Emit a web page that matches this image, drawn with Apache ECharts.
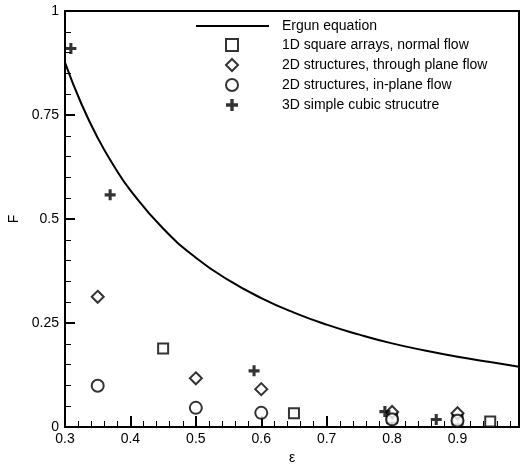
<!DOCTYPE html>
<html>
<head>
<meta charset="utf-8">
<script src="https://cdn.jsdelivr.net/npm/echarts@6/dist/echarts.min.js"></script>
<style>html,body{margin:0;padding:0;background:#fff}#c{width:527px;height:466px}</style>
</head>
<body>
<div id="c"></div>
<script>
// Ergun equation curve
var ergunEps = [0.3, 0.325, 0.35, 0.375, 0.4, 0.45, 0.5, 0.55, 0.6, 0.65, 0.7, 0.75, 0.8, 0.85, 0.9, 0.95, 0.994];
var ergunF   = [0.876, 0.777, 0.695, 0.627, 0.569, 0.477, 0.407, 0.353, 0.310, 0.275, 0.246, 0.222, 0.201, 0.184, 0.169, 0.156, 0.145];
// 1D square arrays, normal flow
var sqEps = [0.45, 0.65, 0.8, 0.9, 0.95];
var sqF   = [0.189, 0.033, 0.022, 0.018, 0.013];
// 2D structures, through plane flow
var diaEps = [0.35, 0.5, 0.6, 0.8, 0.9];
var diaF   = [0.313, 0.117, 0.091, 0.036, 0.033];
// 2D structures, in-plane flow
var cirEps = [0.35, 0.5, 0.6, 0.8, 0.9];
var cirF   = [0.099, 0.046, 0.034, 0.018, 0.015];
// 3D simple cubic strucutre
var plusEps = [0.309, 0.369, 0.589, 0.789, 0.8675];
var plusF   = [0.910, 0.558, 0.135, 0.037, 0.018];

var seriesNames = ['Ergun equation', '1D square arrays, normal flow', '2D structures, through plane flow', '2D structures, in-plane flow', '3D simple cubic strucutre'];

function zip(a, b) { return a.map(function (v, i) { return [v, b[i]]; }); }

var plusPath = 'path://M0,3.6H3.6V0H6.4V3.6H10V6.4H6.4V10H3.6V6.4H0Z';
var FONT = 'Liberation Sans, Arial, sans-serif';

// helper axis used only to draw tick marks pointing into the plot
function tickAxis(pos, min, max, interval, len, width) {
  return {
    type: 'value', min: min, max: max, interval: interval, position: pos, offset: -len,
    splitLine: {show: false},
    axisLine: {show: false, onZero: false},
    axisTick: {show: true, length: len, lineStyle: {color: '#000', width: width}},
    axisLabel: {show: false}
  };
}

var chart = echarts.init(document.getElementById('c'), null, {renderer: 'canvas'});
chart.setOption({
  animation: false,
  backgroundColor: '#fff',
  textStyle: {fontFamily: FONT},
  grid: {left: 65, right: 8, top: 11, bottom: 39, show: true, borderColor: '#000', borderWidth: 2,
         containLabel: false, outerBoundsMode: 'none'},
  legend: [
    {
      data: [seriesNames[0]],
      left: 195, top: 19, padding: 0, itemWidth: 73, itemHeight: 14, itemGap: 4, orient: 'vertical',
      itemStyle: {opacity: 0},
      textStyle: {fontFamily: FONT, fontSize: 14, color: '#000', padding: [0, 0, 0, 8]}
    },
    {
      data: seriesNames.slice(1),
      left: 225, top: 38, padding: 0, itemWidth: 12, itemHeight: 12, itemGap: 6, orient: 'vertical',
      textStyle: {fontFamily: FONT, fontSize: 14, color: '#000', padding: [0, 0, 0, 39]}
    }
  ],
  xAxis: [{
    type: 'value', min: 0.3, max: 0.994, interval: 0.1, position: 'bottom',
    name: 'ε', nameLocation: 'middle', nameGap: 24,
    nameTextStyle: {fontFamily: FONT, fontSize: 14, color: '#000'},
    splitLine: {show: false},
    axisLine: {show: true, onZero: false, lineStyle: {color: '#000', width: 2}},
    axisTick: {show: false},
    axisLabel: {showMaxLabel: false, color: '#000', fontSize: 14, fontFamily: FONT, margin: 5,
      formatter: function (v) { return (Math.round(v * 10) / 10).toString(); }}
  },
    tickAxis('bottom', 0.3, 0.994, 0.1, 11, 2),
    tickAxis('bottom', 0.3, 0.994, 0.02, 6, 1)
  ],
  yAxis: [{
    type: 'value', min: 0, max: 1, interval: 0.25, position: 'left',
    name: 'F', nameLocation: 'middle', nameGap: 38, nameRotate: 90,
    nameTextStyle: {fontFamily: FONT, fontSize: 14, color: '#000'},
    splitLine: {show: false},
    axisLine: {show: true, onZero: false, lineStyle: {color: '#000', width: 2}},
    axisTick: {show: false},
    axisLabel: {color: '#000', fontSize: 14, fontFamily: FONT, margin: 6}
  },
    tickAxis('left', 0, 1, 0.25, 10, 2),
    tickAxis('left', 0, 1, 0.05, 6, 1)
  ],
  series: [
    {
      name: seriesNames[0], type: 'line', data: zip(ergunEps, ergunF), smooth: true,
      symbol: 'none', showSymbol: false, color: '#000',
      lineStyle: {color: '#000', width: 2}
    },
    {
      name: seriesNames[1], type: 'scatter', data: zip(sqEps, sqF), symbol: 'rect', symbolSize: 10,
      color: '#000', itemStyle: {color: '#fff', borderColor: '#000', borderWidth: 2}
    },
    {
      name: seriesNames[2], type: 'scatter', data: zip(diaEps, diaF), symbol: 'diamond', symbolSize: 12,
      color: '#000', itemStyle: {color: '#fff', borderColor: '#000', borderWidth: 2}
    },
    {
      name: seriesNames[3], type: 'scatter', data: zip(cirEps, cirF), symbol: 'circle', symbolSize: 12,
      color: '#000', itemStyle: {color: '#fff', borderColor: '#000', borderWidth: 2}
    },
    {
      name: seriesNames[4], type: 'scatter', data: zip(plusEps, plusF), symbol: plusPath, symbolSize: 11,
      color: '#000', itemStyle: {color: '#000', borderWidth: 0}
    }
  ]
});
</script>
</body>
</html>
